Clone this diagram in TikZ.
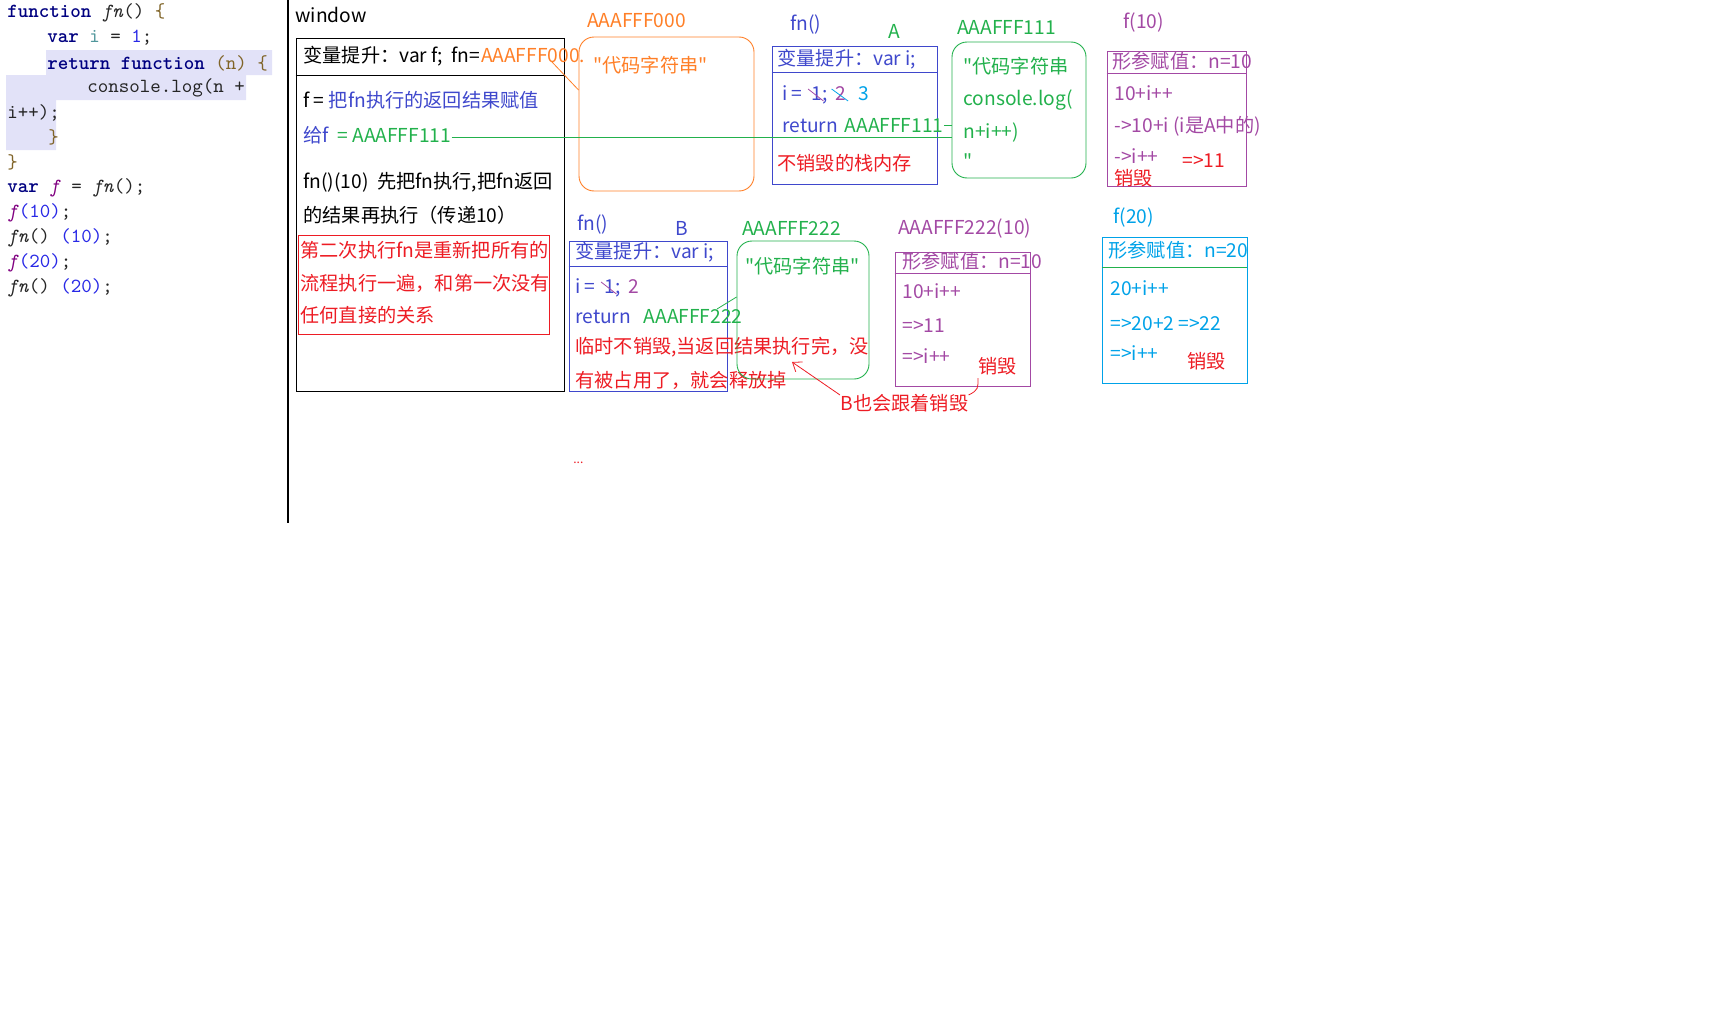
\documentclass[tikz,border=0pt]{standalone}
\usepackage{fontspec}
\newfontfamily\cjk{Noto Sans CJK SC}
\usetikzlibrary{positioning,arrows.meta,fit,calc}
\definecolor{pblue}{RGB}{63,72,204}
\definecolor{porange}{RGB}{255,127,39}
\definecolor{pgreen}{RGB}{34,177,76}
\definecolor{pred}{RGB}{237,28,36}
\definecolor{ppurple}{RGB}{163,73,164}
\definecolor{pcyan}{RGB}{0,162,232}
\definecolor{kwnavy}{RGB}{0,0,128}
\definecolor{brace}{RGB}{128,100,40}
\definecolor{vteal}{RGB}{80,150,155}
\definecolor{numblue}{RGB}{40,40,230}
\definecolor{fpurple}{RGB}{128,0,128}
\definecolor{hilite}{RGB}{226,226,248}

\begin{document}
\begin{tikzpicture}[x=0.5pt,y=-0.5pt,
  lbl/.style={inner sep=0,anchor=west,text height=7.6pt,text depth=2pt,
    font=\cjk\fontsize{9.6}{11}\selectfont},
  codeln/.style={inner sep=0,anchor=west,text=black!85,
    font=\ttfamily\fontsize{10}{12}\selectfont},
  framed/.style={draw=#1,inner sep=0,line width=0.45pt},
  heapbox/.style={framed=#1,rounded corners=7.5pt}]
  \useasboundingbox (0,0) rectangle (1736,1012);
  % code on the left
  \fill[hilite] (46,50) -- (272,50) -- (272,75) -- (246,75) -- (246,100) -- (56,100)
    -- (56,150) -- (6,150) -- (6,75) -- (46,75) -- cycle;
  \node[codeln] (c1) at (7,13) {\textcolor{kwnavy}{\bfseries function} \textit{fn}() \textcolor{brace}{\{}};
  \node[codeln] (c2) at (47,38) {\textcolor{kwnavy}{\bfseries var} \textcolor{vteal}{i} = \textcolor{numblue}{1};};
  \node[codeln] (c3) at (47,63) {\textcolor{kwnavy}{\bfseries return function} \textcolor{brace}{(n) \{}};
  \node[codeln] (c4) at (87,88) {console.log(n +};
  \node[codeln] (c5) at (7,113) {i++);};
  \node[codeln] (c6) at (48,137) {\textcolor{brace}{\}}};
  \node[codeln] (c7) at (7,162) {\textcolor{brace}{\}}};
  \node[codeln] (c8) at (7,188) {\textcolor{kwnavy}{\bfseries var} \textcolor{fpurple}{\textit{f}} = \textit{fn}();};
  \node[codeln] (c9) at (7,213) {\textcolor{fpurple}{\textit{f}}\textcolor{numblue}{(10)};};
  \node[codeln] (c10) at (7,238) {\textit{fn}() \textcolor{numblue}{(10)};};
  \node[codeln] (c11) at (7,263) {\textcolor{fpurple}{\textit{f}}\textcolor{numblue}{(20)};};
  \node[codeln] (c12) at (7,288) {\textit{fn}() \textcolor{numblue}{(20)};};
  \draw[line width=0.55pt] (288,0) -- (288,523);

  % window
  \node[lbl] (winlbl) at (295,17) {window};
  \node[framed=black,fit={(296,38) (564,391)}] (win) {};
  \draw[line width=0.45pt] (win.west |- 0,75) -- (win.east |- 0,75);
  \node[lbl] (hdrF) at (303,57) {变量提升：var f;\ \ fn=};
  \node[lbl,right=0pt of hdrF,text=porange] (addr000) {AAAFFF000.};
  \node[lbl] (fgets) at (303,102) {f = \textcolor{pblue}{把fn执行的返回结果赋值}};
  \node[lbl,text=pblue] (giveF) at (303,137) {给f};
  \node[lbl,right=4pt of giveF,text=pgreen] (f111) {=\ AAAFFF111};
  \node[lbl] (call1) at (303,183) {fn()(10)\ \ 先把fn执行,把fn返回};
  \node[lbl] (call2) at (303,217) {的结果再执行（传递10）};
  \node[framed=pred,fit={(298,235) (549,334)}] (note) {};
  \node[lbl,text=pred] (note1) at (300,252) {第二次执行fn是重新把所有的};
  \node[lbl,text=pred] (note2) at (300,285) {流程执行一遍，和第一次没有};
  \node[lbl,text=pred] (note3) at (300,317) {任何直接的关系};

  % heap AAAFFF000
  \node[lbl,text=porange] (lbl000) at (587,22) {AAAFFF000};
  \node[heapbox=porange,fit={(579,37) (754,191)}] (heap000) {};
  \node[lbl,text=porange] (str000) at (593,67) {"代码字符串"};
  \coordinate (o1) at (552,62);
  \draw[porange,line width=0.4pt] (o1) -- (heap000.west |- 0,90);

  % stack A
  \node[lbl,text=pblue] (fnA) at (790,25) {fn()};
  \node[lbl,text=pgreen] (tagA) at (888,33) {A};
  \node[framed=pblue,fit={(772,46) (937,184)}] (stackA) {};
  \draw[pblue,line width=0.45pt] (stackA.west |- 0,72) -- (stackA.east |- 0,72);
  \node[lbl,text=pblue] (hoistA) at (777,60) {变量提升：var i;};
  \node[lbl,text=pblue] (iA) at (782,95) {i\ =};
  \node[lbl,right=4pt of iA,text=pblue] (oneA) {1};
  \node[lbl,right=0pt of oneA,text=pblue] (semiA) {;};
  \node[lbl,right=3pt of semiA,text=ppurple] (twoA) {2};
  \node[lbl,right=6pt of twoA,text=pcyan] (threeA) {3};
  \draw[ppurple,line width=0.4pt] ($(oneA.north west)+(-3,4)$) -- ($(oneA.south east)+(1,-4)$);
  \draw[pcyan,line width=0.4pt] ($(twoA.north west)+(-3,4)$) -- ($(twoA.south east)+(2,-4)$);
  \node[lbl,text=pblue] (retA) at (782,127) {return};
  \node[lbl,right=3pt of retA,text=pgreen] (ret111) {AAAFFF111};
  \node[lbl,text=pred] (keepA) at (777,165) {不销毁的栈内存};

  % heap AAAFFF111
  \node[lbl,text=pgreen] (lbl111) at (957,29) {AAAFFF111};
  \node[heapbox=pgreen,fit={(952,42) (1086,178)}] (heap111) {};
  \node[lbl,text=pgreen] (s111a) at (963,68) {"代码字符串};
  \node[lbl,text=pgreen] (s111b) at (963,100) {console.log(};
  \node[lbl,text=pgreen] (s111c) at (963,133) {n+i++)};
  \node[lbl,text=pgreen] (s111d) at (963,163) {"};
  \draw[pgreen,line width=0.4pt] (f111.east) -- (f111.east -| heap111.west);
  \draw[pgreen,line width=0.4pt] ($(ret111.east)+(0,-2)$) -- ($(ret111.east -| heap111.west)+(0,-2)$);

  % call f(10)
  \node[lbl,text=ppurple] (lblf10) at (1123,23) {f(10)};
  \node[framed=ppurple,fit={(1107,51) (1246,186)}] (f10) {};
  \draw[ppurple,line width=0.45pt] (f10.west |- 0,73) -- (f10.east |- 0,73);
  \node[lbl,text=ppurple] (f10a) at (1112,63) {形参赋值：n=10};
  \node[lbl,text=ppurple] (f10b) at (1114,95) {10+i++};
  \node[lbl,text=ppurple] (f10c) at (1114,127) {->10+i (i是A中的)};
  \node[lbl,text=ppurple] (f10d) at (1114,158) {->i++};
  \node[lbl,text=pred] (f10e) at (1182,162) {=>11};
  \node[lbl,text=pred] (kill10) at (1114,180) {销毁};

  % stack B
  \node[lbl,text=pblue] (fnB) at (577,225) {fn()};
  \node[lbl,text=pblue] (tagB) at (675,230) {B};
  \node[framed=pblue,fit={(569,241) (727,391)}] (stackB) {};
  \draw[pblue,line width=0.45pt] (stackB.west |- 0,266) -- (stackB.east |- 0,266);
  \node[lbl,text=pblue] (hoistB) at (575,253) {变量提升：var i;};
  \node[lbl,text=pblue] (iB) at (575,288) {i\ =};
  \node[lbl,right=4pt of iB,text=pblue] (oneB) {1};
  \node[lbl,right=0pt of oneB,text=pblue] (semiB) {;};
  \node[lbl,right=3pt of semiB,text=ppurple] (twoB) {2};
  \draw[ppurple,line width=0.4pt] ($(oneB.north west)+(-3,4)$) -- ($(oneB.south east)+(1,-4)$);
  \node[lbl,text=pblue] (retB) at (575,318) {return};
  \node[lbl,right=6pt of retB,text=pgreen] (ret222) {AAAFFF222};
  \node[lbl,text=pred] (tmpB1) at (575,348) {临时不销毁,当返回结果执行完，没};
  \node[lbl,text=pred] (tmpB2) at (575,382) {有被占用了，就会释放掉};

  % heap AAAFFF222
  \node[lbl,text=pgreen] (lbl222) at (742,230) {AAAFFF222};
  \node[heapbox=pgreen,fit={(737,241) (869,379)}] (heap222) {};
  \node[lbl,text=pgreen] (str222) at (745,268) {"代码字符串"};
  \coordinate (g1) at (717,309);
  \draw[pgreen,line width=0.4pt] (g1) -- (heap222.west |- 0,297);

  % call AAAFFF222(10)
  \node[lbl,text=ppurple] (lbl222c) at (898,229) {AAAFFF222(10)};
  \node[framed=ppurple,fit={(895,252) (1030,386)}] (f222) {};
  \draw[ppurple,line width=0.45pt] (f222.west |- 0,273) -- (f222.east |- 0,273);
  \node[lbl,text=ppurple] (f222a) at (902,263) {形参赋值：n=10};
  \node[lbl,text=ppurple] (f222b) at (902,293) {10+i++};
  \node[lbl,text=ppurple] (f222c) at (902,327) {=>11};
  \node[lbl,text=ppurple] (f222d) at (902,358) {=>i++};
  \node[lbl,text=pred] (kill222) at (978,368) {销毁};

  % call f(20)
  \node[lbl,text=pcyan] (lblf20) at (1113,218) {f(20)};
  \node[framed=pcyan,fit={(1102,237) (1247,383)}] (f20) {};
  \draw[pgreen,line width=0.45pt] (f20.west |- 0,267) -- (f20.east |- 0,267);
  \node[lbl,text=pcyan] (f20a) at (1108,252) {形参赋值：n=20};
  \node[lbl,text=pcyan] (f20b) at (1110,290) {20+i++};
  \node[lbl,text=pcyan] (f20c) at (1110,325) {=>20+2 =>22};
  \node[lbl,text=pcyan] (f20d) at (1110,355) {=>i++};
  \node[lbl,text=pred] (kill20) at (1187,363) {销毁};

  % B goes too
  \node[lbl,text=pred] (Bgone) at (840,405) {B也会跟着销毁};
  \coordinate (tipB) at (792,362);
  \draw[pred,line width=0.4pt,-{Straight Barb[length=4pt,width=6pt]}] (Bgone.north west) -- (tipB);
  \draw[pred,line width=0.4pt] (Bgone.north east) .. controls +(10,-5) and +(0,10) .. (kill222.south west);
  \node[lbl,text=pred,font=\cjk\fontsize{6}{7}\selectfont] (more) at (573,458) {...};
\end{tikzpicture}
\end{document}
